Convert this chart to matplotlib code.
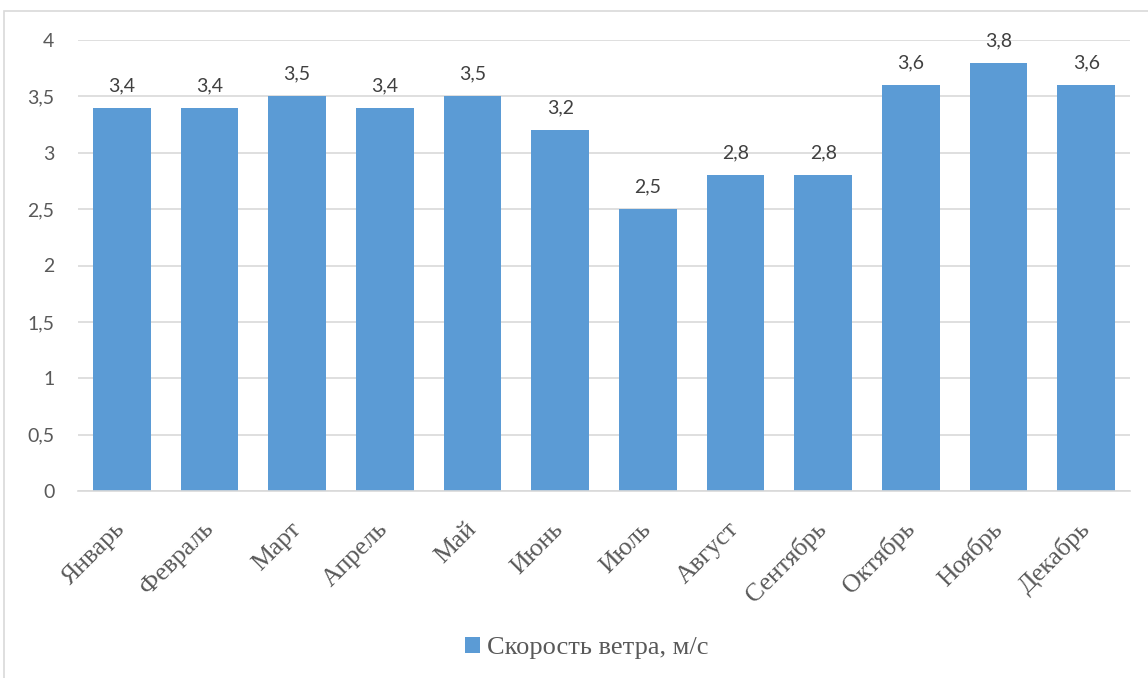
import matplotlib.pyplot as plt
from matplotlib.patches import Rectangle

months = ['Январь', 'Февраль', 'Март', 'Апрель', 'Май', 'Июнь',
          'Июль', 'Август', 'Сентябрь', 'Октябрь', 'Ноябрь', 'Декабрь']
wind_speed = [3.4, 3.4, 3.5, 3.4, 3.5, 3.2, 2.5, 2.8, 2.8, 3.6, 3.8, 3.6]
y_ticks = [0, 0.5, 1, 1.5, 2, 2.5, 3, 3.5, 4]

bar_color = '#5b9bd5'
text_grey = '#595959'

fig = plt.figure(figsize=(11.48, 6.78), dpi=100)

# chart area border (runs off the page to the right and bottom)
fig.patches.append(Rectangle((4 / 1148, -0.05), 1.1, 1.05 - 11 / 678,
                             transform=fig.transFigure, fill=False,
                             edgecolor='#d9d9d9', linewidth=1.2))

ax = fig.add_axes([78 / 1148, 1 - 491 / 678, (1130 - 78) / 1148, (491 - 40) / 678])
x = list(range(len(months)))
bars = ax.bar(x, wind_speed, width=0.66, color=bar_color, zorder=2,
              label='Скорость ветра, м/с')

for xi, v in zip(x, wind_speed):
    ax.annotate(f'{v}'.replace('.', ','), (xi, v), xytext=(0, 12),
                textcoords='offset points', ha='center', va='baseline',
                fontsize=14, family='Lato', color='#404040')

ax.set_xlim(-0.5, len(months) - 0.5)
ax.set_ylim(0, 4)
ax.set_yticks(y_ticks)
ax.set_yticklabels([f'{t:g}'.replace('.', ',') for t in y_ticks],
                   family='Lato', fontsize=14, color=text_grey)
ax.yaxis.grid(True, color='#d9d9d9', linewidth=1.2, zorder=0)
ax.set_axisbelow(True)

ax.set_xticks(x)
ax.set_xticklabels(months, rotation=45, ha='right', va='center',
                   rotation_mode='anchor',
                   family='Liberation Serif', fontsize=18.5, color=text_grey)
ax.tick_params(axis='both', length=0)
ax.tick_params(axis='x', pad=25)
ax.tick_params(axis='y', pad=17)

for side in ['top', 'right', 'left']:
    ax.spines[side].set_visible(False)
ax.spines['bottom'].set_color('#d9d9d9')
ax.spines['bottom'].set_linewidth(1.2)

fig.legend(handles=[bars], labels=['Скорость ветра, м/с'], loc='center',
           bbox_to_anchor=(587 / 1148, 1 - 648 / 678), frameon=False,
           prop={'family': 'Liberation Serif', 'size': 19},
           handlelength=0.55, handleheight=0.55, handletextpad=0.3,
           labelcolor=text_grey)

fig.savefig('out.png', dpi=100)
